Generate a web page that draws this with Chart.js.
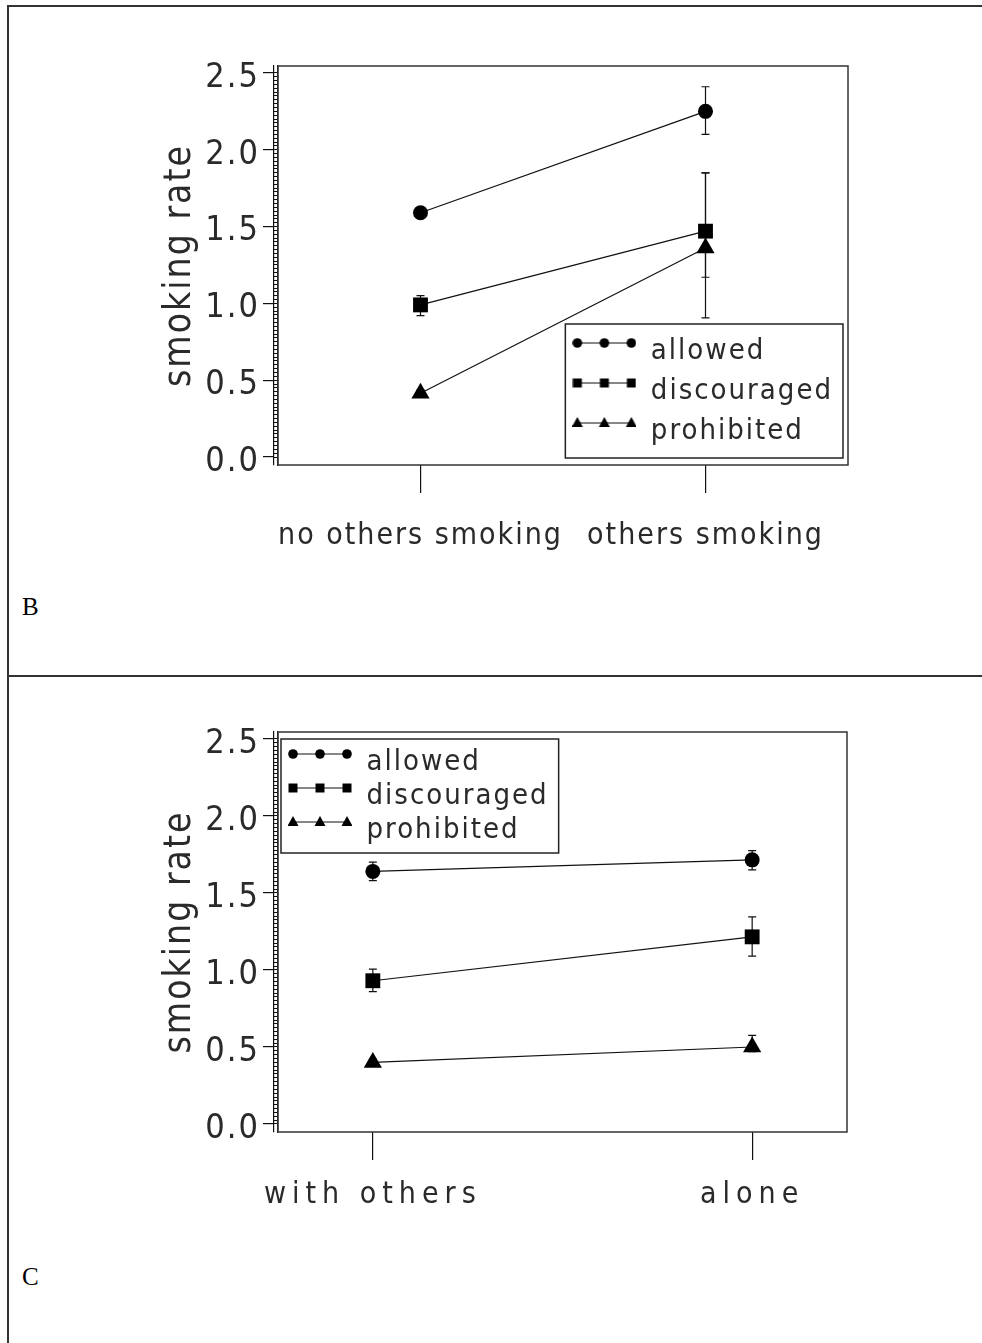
<!DOCTYPE html>
<html>
<head>
<meta charset="utf-8">
<script src="https://cdn.jsdelivr.net/npm/chart.js@4.4.1/dist/chart.umd.min.js"></script>
<style>
  html, body { margin: 0; padding: 0; background: #fff; }
  body { position: relative; width: 982px; height: 1343px; overflow: hidden; }
  .panel { position: absolute; left: 7px; right: 0; border-left: 2px solid #333; border-top: 2px solid #333; box-sizing: border-box; }
  #panelB { top: 5px; height: 671px; }
  #panelC { top: 675px; height: 668px; }
  .tag { position: absolute; left: 22px; font: 25px 'Liberation Serif', 'DejaVu Serif', serif; line-height: 1; color: #000; }
  canvas { position: absolute; left: 0; }
</style>
</head>
<body>
<div class="panel" id="panelB"></div>
<div class="panel" id="panelC"></div>
<div class="tag" style="top:594px">B</div>
<div class="tag" style="top:1264px">C</div>
<canvas id="chartB" width="982" height="676" style="top:0"></canvas>
<canvas id="chartC" width="982" height="667" style="top:676px"></canvas>
<script>
// categories and series
const categoriesB = ['no others smoking', 'others smoking'];
const categoriesC = ['with others', 'alone'];
const seriesNames = ['allowed', 'discouraged', 'prohibited'];
const yTicks = [0, 0.5, 1.0, 1.5, 2.0, 2.5];

// panel B: means, lower and upper error bar ends
const allowedB = [1.59, 2.25];
const discouragedB = [0.99, 1.47];
const prohibitedB = [0.415, 1.36];
const allowedBLow = [1.56, 2.10];
const allowedBHigh = [1.62, 2.41];
const discouragedBLow = [0.92, 1.17];
const discouragedBHigh = [1.05, 1.85];
const prohibitedBLow = [0.39, 0.905];
const prohibitedBHigh = [0.435, 1.85];

// panel C
const allowedC = [1.64, 1.715];
const discouragedC = [0.93, 1.215];
const prohibitedC = [0.40, 0.50];
const allowedCLow = [1.58, 1.65];
const allowedCHigh = [1.70, 1.775];
const discouragedCLow = [0.86, 1.09];
const discouragedCHigh = [1.005, 1.345];
const prohibitedCLow = [0.375, 0.47];
const prohibitedCHigh = [0.42, 0.575];

const FONT = "'Liberation Sans Narrow', 'DejaVu Sans Condensed', 'Liberation Sans', sans-serif";
const SPACING = '2px';
const INK = '#2a2a2a';
const yMin = -0.052, yMax = 2.545;

Chart.defaults.font.family = FONT;
Chart.defaults.color = INK;

const markerStyles = ['circle', 'rect', 'triangle'];
const markerRadius = [7.5, 10.5, 10.5];

// little "marker-line-marker" samples for the legend
function makeGlyph(style) {
    const c = document.createElement('canvas');
    c.width = 64; c.height = 40;
    const g = c.getContext('2d');
    const xs = [5, 32, 59], yc = 12;
    g.strokeStyle = '#111'; g.lineWidth = 1.2;
    g.beginPath(); g.moveTo(xs[0], yc); g.lineTo(xs[2], yc); g.stroke();
    g.fillStyle = '#000';
    xs.forEach(x => {
        g.beginPath();
        if (style === 'circle') g.arc(x, yc, 4.8, 0, 2 * Math.PI);
        else if (style === 'rect') g.rect(x - 4.5, yc - 4.5, 9, 9);
        else { g.moveTo(x, yc - 6); g.lineTo(x + 5.5, yc + 4); g.lineTo(x - 5.5, yc + 4); g.closePath(); }
        g.fill();
    });
    return c;
}
const glyphs = markerStyles.map(makeGlyph);

function buildDatasets(means, lows, highs) {
    return seriesNames.map((name, k) => ({
        label: name,
        data: means[k].map((v, i) => ({x: i, y: v})),
        errLow: lows[k],
        errHigh: highs[k],
        borderColor: '#111',
        borderWidth: 1.2,
        pointStyle: markerStyles[k],
        pointRadius: markerRadius[k],
        pointHoverRadius: markerRadius[k],
        pointBackgroundColor: '#000',
        pointBorderColor: '#000',
        pointBorderWidth: 0,
        tension: 0,
        fill: false
    }));
}

const errorBars = {
    id: 'errorBars',
    beforeDatasetsDraw(chart) {
        const {ctx, scales: {x, y}} = chart;
        ctx.save();
        ctx.strokeStyle = '#111';
        ctx.lineWidth = 1.2;
        chart.data.datasets.forEach(ds => {
            ds.data.forEach((p, i) => {
                const px = x.getPixelForValue(p.x);
                const top = y.getPixelForValue(ds.errHigh[i]);
                const bot = y.getPixelForValue(ds.errLow[i]);
                ctx.beginPath();
                ctx.moveTo(px, top); ctx.lineTo(px, bot);
                ctx.moveTo(px - 4, top); ctx.lineTo(px + 4, top);
                ctx.moveTo(px - 4, bot); ctx.lineTo(px + 4, bot);
                ctx.stroke();
            });
        });
        ctx.restore();
    }
};

// plot box, legend placement inside the plot and the legend's frame
const frame = {
    id: 'frame',
    beforeUpdate(chart) { chart.ctx.letterSpacing = SPACING; },
    beforeDraw(chart) { chart.ctx.letterSpacing = SPACING; },
    afterLayout(chart, args, opts) {
        const lg = chart.legend, a = chart.chartArea;
        if (!lg || !lg.legendHitBoxes) return;
        const pad = lg.options.labels.padding;
        const fs = lg.options.labels.font.size;
        const n = lg.legendHitBoxes.length;
        const wMax = Math.max(...lg.legendHitBoxes.map(h => h.width));
        const bw = opts.sampleInset + wMax + opts.textInset;
        const bh = n * fs + (n - 1) * pad + 2 * opts.marginY;
        const bx = opts.corner === 'br' ? a.right - opts.dx - bw : a.left + opts.dx;
        const by = opts.corner === 'br' ? a.bottom - opts.dy - bh : a.top + opts.dy;
        chart.$legendFrame = {x: bx, y: by, w: bw, h: bh};
        lg.left = bx + opts.sampleInset - pad;
        lg.top = by + opts.marginY - pad;
        lg.right = bx + bw + 4;
        lg.bottom = by + bh + 2 * pad + 4;
        lg.width = lg.right - lg.left;
        lg.height = lg.bottom - lg.top;
    },
    beforeDatasetsDraw(chart) {
        const {ctx, chartArea: a} = chart;
        ctx.save();
        ctx.strokeStyle = '#333';
        ctx.lineWidth = 1.5;
        ctx.strokeRect(a.left, a.top, a.width, a.height);
        ctx.restore();
    },
    // x labels are drawn after the datasets (ticks.z = 1), with their own spacing
    afterDatasetsDraw(chart, args, opts) {
        chart.ctx.letterSpacing = opts.xSpacing || SPACING;
    },
    afterDraw(chart) {
        const f = chart.$legendFrame;
        if (!f) return;
        const ctx = chart.ctx;
        ctx.save();
        ctx.strokeStyle = '#222';
        ctx.lineWidth = 1.5;
        ctx.strokeRect(f.x, f.y, f.w, f.h);
        ctx.restore();
    }
};

function buildScales(categories, xRange, labelPad) {
    return {
        x: {
            type: 'linear',
            min: xRange[0],
            max: xRange[1],
            afterBuildTicks: s => { s.ticks = categories.map((c, i) => ({value: i})); },
            afterFit: s => { s.height = 100; },
            ticks: { z: 1, callback: v => categories[v], autoSkip: false, maxRotation: 0, padding: labelPad, font: {size: 30} },
            grid: { drawOnChartArea: false, tickLength: 28, color: '#111', lineWidth: 1.2 },
            border: { display: false }
        },
        y: {
            position: 'left',
            weight: 1,
            min: yMin,
            max: yMax,
            afterBuildTicks: s => { s.ticks = yTicks.map(v => ({value: v})); },
            afterFit: s => { s.width = 130; },
            ticks: { callback: v => v.toFixed(1), autoSkip: false, padding: 3, labelOffset: 5, font: {size: 34} },
            grid: { drawOnChartArea: false, tickLength: 11, color: '#111', lineWidth: 1.2 },
            border: { display: true, color: '#111', width: 1.2 },
            title: { display: true, text: 'smoking rate', font: {size: 37}, padding: {top: 14, bottom: 0} }
        },
        yMinor: {
            position: 'left',
            weight: 0,
            min: yMin,
            max: yMax,
            afterBuildTicks: s => {
                s.ticks = [];
                for (let k = 0; k <= 100; k++) s.ticks.push({value: k * 0.025});
            },
            afterFit: s => { s.width = 4; },
            ticks: { display: false, autoSkip: false },
            grid: { drawOnChartArea: false, tickLength: 4, color: '#111', lineWidth: 1 },
            border: { display: true, color: '#111', width: 1.2 }
        }
    };
}

function makeChart(id, categories, xRange, labelPad, datasets, padding, legendFrame) {
    return new Chart(document.getElementById(id), {
        type: 'line',
        data: { datasets: datasets },
        options: {
            responsive: false,
            animation: false,
            devicePixelRatio: 1,
            layout: { padding: padding },
            scales: buildScales(categories, xRange, labelPad),
            plugins: {
                tooltip: { enabled: false },
                legend: {
                    position: 'chartArea',
                    fullSize: false,
                    align: 'start',
                    labels: {
                        usePointStyle: true,
                        pointStyleWidth: 64,
                        padding: legendFrame.pad,
                        font: { size: 29 },
                        color: INK,
                        generateLabels: () => seriesNames.map((name, i) => ({
                            text: name,
                            pointStyle: glyphs[i],
                            fillStyle: '#000',
                            strokeStyle: '#000',
                            lineWidth: 0,
                            hidden: false,
                            datasetIndex: i,
                            fontColor: INK
                        }))
                    }
                },
                frame: legendFrame
            }
        },
        plugins: [frame, errorBars]
    });
}

makeChart('chartB', categoriesB, [-0.5, 1.5], 25,
    buildDatasets([allowedB, discouragedB, prohibitedB],
                  [allowedBLow, discouragedBLow, prohibitedBLow],
                  [allowedBHigh, discouragedBHigh, prohibitedBHigh]),
    {left: 144, right: 134, top: 66, bottom: 111},
    {corner: 'br', dx: 5, dy: 7, pad: 11, marginY: 12.5, sampleInset: 7, textInset: 10, xSpacing: '2px'});

makeChart('chartC', categoriesC, [-0.25, 1.25], 17,
    buildDatasets([allowedC, discouragedC, prohibitedC],
                  [allowedCLow, discouragedCLow, prohibitedCLow],
                  [allowedCHigh, discouragedCHigh, prohibitedCHigh]),
    {left: 144, right: 135, top: 56, bottom: 111},
    {corner: 'tl', dx: 3, dy: 7, pad: 5, marginY: 8.5, sampleInset: 7, textInset: 10, xSpacing: '6px'});
</script>
</body>
</html>
